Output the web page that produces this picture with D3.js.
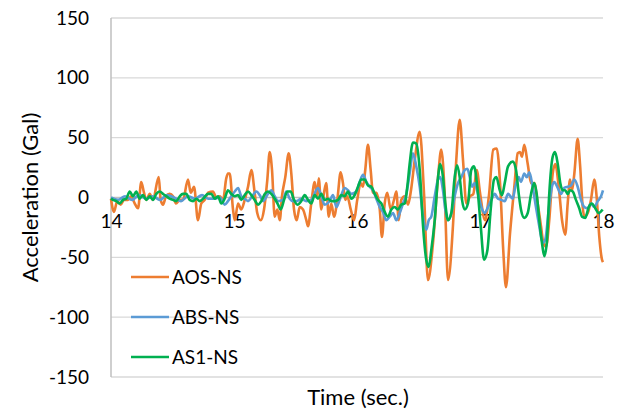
<!DOCTYPE html>
<html><head><meta charset="utf-8">
<script src="https://cdn.jsdelivr.net/npm/d3@7"></script>
<style>body{margin:0;background:#fff;} text{font-family:Lato,"Open Sans",sans-serif;fill:#000;}</style>
</head><body><svg id="c" width="620" height="412"></svg>
<script>
// ---- data ----
const xTicks = [14, 15, 16, 17, 18];
const yTicks = [-150, -100, -50, 0, 50, 100, 150];
const seriesNames = ["AOS-NS", "ABS-NS", "AS1-NS"];
const seriesColors = ["#ED7D31", "#5B9BD5", "#00B050"];

const aosT = [14.000,14.024,14.051,14.079,14.106,14.138,14.163,14.193,14.220,14.246,14.268,14.287,14.315,14.341,14.388,14.404,14.423,14.447,14.477,14.504,14.528,14.559,14.585,14.626,14.648,14.675,14.707,14.734,14.762,14.789,14.829,14.856,14.884,14.911,14.937,14.951,14.965,14.992,15.006,15.033,15.059,15.087,15.114,15.141,15.168,15.189,15.217,15.244,15.271,15.290,15.309,15.331,15.352,15.372,15.390,15.417,15.445,15.466,15.488,15.510,15.534,15.561,15.588,15.602,15.628,15.656,15.677,15.689,15.710,15.732,15.750,15.770,15.791,15.813,15.840,15.867,15.886,15.905,15.921,15.949,15.976,16.002,16.030,16.049,16.067,16.089,16.111,16.130,16.157,16.185,16.203,16.225,16.246,16.274,16.301,16.320,16.339,16.360,16.388,16.415,16.439,16.469,16.510,16.545,16.577,16.618,16.659,16.685,16.713,16.740,16.780,16.807,16.835,16.862,16.889,16.919,16.946,16.973,17.000,17.041,17.073,17.108,17.136,17.163,17.189,17.211,17.244,17.279,17.307,17.325,17.341,17.360,17.388,17.415,17.441,17.469,17.496,17.515,17.537,17.563,17.591,17.612,17.640,17.667,17.693,17.713,17.732,17.748,17.767,17.794,17.813,17.835,17.848,17.876,17.902,17.929,17.948,17.970,17.992,18.000];
const aosV = [-1,-12,-3,-6,-2,-2,1,-5,-9,13,4,-2,3,-2,17,-2,-6,1,3,1,-5,-2,-2,15,4,9,-19,-5,-2,4,5,0,1,-2,16,20,20,-10,-19,-5,-10,-2,9,23,4,-13,-19,-10,15,38,23,-16,-10,-19,1,17,37,20,-10,-19,-8,-10,-19,-24,-5,13,1,16,-10,4,12,-16,-5,-16,-2,21,12,-2,1,-10,-19,-2,12,9,23,44,23,4,4,-10,-33,-5,4,-10,-2,5,-19,-2,1,-6,6,31,55,3,-69,-38,17,40,3,-69,-24,31,65,31,-5,1,3,23,4,-19,2,40,41,12,-44,-75,-30,9,37,38,34,44,28,12,12,-5,-24,-38,-41,-19,20,28,9,-19,-31,-5,15,6,20,49,28,-8,-16,-13,-2,15,1,-33,-52,-54];

const absT = [14.000,14.057,14.114,14.171,14.228,14.285,14.341,14.398,14.455,14.512,14.569,14.626,14.683,14.740,14.789,14.843,14.886,14.924,14.951,15.006,15.033,15.059,15.087,15.114,15.154,15.181,15.209,15.236,15.276,15.303,15.331,15.358,15.398,15.425,15.453,15.480,15.510,15.547,15.588,15.628,15.683,15.710,15.737,15.778,15.805,15.832,15.859,15.900,15.927,15.954,15.994,16.022,16.049,16.076,16.103,16.130,16.157,16.185,16.211,16.238,16.266,16.293,16.320,16.347,16.374,16.401,16.428,16.455,16.482,16.510,16.537,16.563,16.583,16.604,16.632,16.659,16.677,16.699,16.718,16.740,16.767,16.794,16.821,16.848,16.876,16.897,16.917,16.935,16.957,16.984,17.011,17.038,17.065,17.092,17.120,17.146,17.173,17.201,17.228,17.266,17.287,17.315,17.333,17.360,17.380,17.401,17.428,17.455,17.482,17.510,17.531,17.559,17.585,17.604,17.632,17.659,17.685,17.713,17.740,17.767,17.794,17.821,17.848,17.876,17.902,17.929,17.957,17.984,18.000];
const absV = [0,-2,1,-2,2,-1,1,-2,2,0,-3,1,-1,2,-1,-1,0,-6,-3,5,8,1,-1,-3,2,5,2,-3,3,6,1,-3,-2,5,-1,-3,-3,-1,-3,-2,8,1,-6,-3,2,-8,-2,8,6,3,5,13,19,13,9,6,-1,-8,-12,-19,-16,-13,-19,-13,-5,3,20,37,26,9,-16,-27,-19,-16,1,15,17,6,-10,-19,-13,1,12,17,23,24,17,9,12,3,-8,-13,-8,-2,3,-1,-2,-3,3,-1,9,17,13,20,17,21,9,-8,-24,-38,-35,-10,9,13,8,3,8,9,10,15,9,-2,-8,-9,-5,-8,-3,1,6];

const as1T = [14.000,14.016,14.043,14.071,14.098,14.124,14.152,14.179,14.206,14.233,14.260,14.287,14.315,14.341,14.368,14.396,14.423,14.450,14.477,14.504,14.531,14.559,14.585,14.612,14.640,14.667,14.694,14.721,14.748,14.789,14.815,14.843,14.870,14.897,14.924,14.951,14.978,15.006,15.033,15.059,15.087,15.114,15.141,15.168,15.195,15.222,15.250,15.276,15.303,15.331,15.358,15.380,15.407,15.433,15.461,15.488,15.515,15.547,15.575,15.602,15.628,15.656,15.683,15.710,15.737,15.764,15.791,15.819,15.846,15.872,15.900,15.927,15.954,15.981,16.008,16.035,16.063,16.089,16.117,16.144,16.171,16.198,16.225,16.252,16.279,16.307,16.333,16.360,16.388,16.409,16.428,16.455,16.482,16.510,16.537,16.563,16.583,16.604,16.632,16.659,16.677,16.699,16.718,16.740,16.767,16.794,16.813,16.835,16.854,16.876,16.902,16.929,16.951,16.978,17.006,17.033,17.060,17.087,17.114,17.133,17.161,17.179,17.201,17.228,17.266,17.293,17.315,17.333,17.360,17.388,17.415,17.441,17.461,17.482,17.504,17.523,17.543,17.563,17.591,17.610,17.632,17.653,17.672,17.693,17.713,17.732,17.754,17.780,17.807,17.829,17.856,17.884,17.911,17.937,17.965,17.997];
const as1V = [-1,-2,-3,-5,-2,-1,5,1,5,-1,2,-2,1,-2,3,5,3,1,-1,-2,-3,1,3,3,-2,-3,-1,-3,-1,3,3,-1,1,-5,-1,6,3,1,2,-2,2,5,2,-2,-6,-3,3,5,3,-1,-6,-10,-2,5,5,-2,-6,-3,2,-2,-5,2,-1,3,-2,-1,-3,-3,-2,2,1,5,-1,2,9,15,15,10,9,3,-2,-5,-12,-16,-10,-8,-10,-6,-5,9,28,46,45,23,-24,-52,-58,-44,-19,17,28,17,-5,-19,-13,17,27,17,-2,-10,-5,23,26,9,-24,-52,-44,-10,15,17,6,2,12,26,30,23,3,-10,-17,-13,3,12,3,-19,-38,-49,-38,3,34,38,28,12,6,6,3,6,5,-2,-9,-16,-17,-8,-5,-9,-13,-10];

// ---- layout ----
const svg = d3.select("#c");
const L = 111, R = 603, T = 18, B = 377;
const x = d3.scaleLinear().domain([14, 18]).range([L, R]);
const y = d3.scaleLinear().domain([-150, 150]).range([B, T]);
const FONT = "Lato,'Open Sans',sans-serif";

// gridlines
svg.append("g").selectAll("line").data(yTicks.filter(v => v !== 0)).join("line")
  .attr("x1", L).attr("x2", R).attr("y1", d => y(d)).attr("y2", d => y(d))
  .attr("stroke", "#D9D9D9").attr("stroke-width", 1.3);

// y-axis labels
const yAxis = d3.axisLeft(y).tickValues(yTicks).tickSize(0).tickPadding(22).tickFormat(d => String(d));
const gy = svg.append("g").attr("transform", `translate(${L},0)`).call(yAxis);
gy.select(".domain").remove();
gy.selectAll("text").style("font-size", "19px").style("font-family", FONT);

// left axis line
svg.append("line").attr("x1", L).attr("x2", L).attr("y1", T).attr("y2", B)
  .attr("stroke", "#BFBFBF").attr("stroke-width", 1.5);
// zero axis line
svg.append("line").attr("x1", L).attr("x2", R).attr("y1", y(0)).attr("y2", y(0))
  .attr("stroke", "#BFBFBF").attr("stroke-width", 1.5);

// x tick labels below zero line
const xAxis = d3.axisBottom(x).tickValues(xTicks).tickSize(0).tickPadding(20).tickFormat(d => String(d));
const gx = svg.append("g").attr("transform", `translate(0,${y(0) - 3})`).call(xAxis);
gx.select(".domain").remove();
gx.selectAll("text").style("font-size", "19px").style("font-family", FONT);

// series
const data = [
  {name: seriesNames[0], color: seriesColors[0], t: aosT, v: aosV},
  {name: seriesNames[1], color: seriesColors[1], t: absT, v: absV},
  {name: seriesNames[2], color: seriesColors[2], t: as1T, v: as1V}
];
const line = d3.line().x(d => x(d[0])).y(d => y(d[1])).curve(d3.curveMonotoneX);
data.forEach(s => {
  const pts = s.t.map((t, i) => [t, s.v[i]]);
  svg.append("path").datum(pts).attr("d", line).attr("fill", "none")
    .attr("stroke", s.color).attr("stroke-width", 2.6).attr("stroke-linejoin", "round");
});

// axis titles
svg.append("text").attr("transform", `translate(38,${(T + B) / 2}) rotate(-90)`)
  .attr("text-anchor", "middle").style("font-size", "22px").text("Acceleration (Gal)");
svg.append("text").attr("x", 358).attr("y", 405)
  .attr("text-anchor", "middle").style("font-size", "22px").text("Time (sec.)");

// legend
const lg = svg.append("g");
data.forEach((s, i) => {
  const yy = 277 + i * 40;
  lg.append("line").attr("x1", 131).attr("x2", 169).attr("y1", yy).attr("y2", yy)
    .attr("stroke", s.color).attr("stroke-width", 2.6);
  lg.append("text").attr("x", 172).attr("y", yy + 7).style("font-size", "19px").text(s.name);
});
</script></body></html>
